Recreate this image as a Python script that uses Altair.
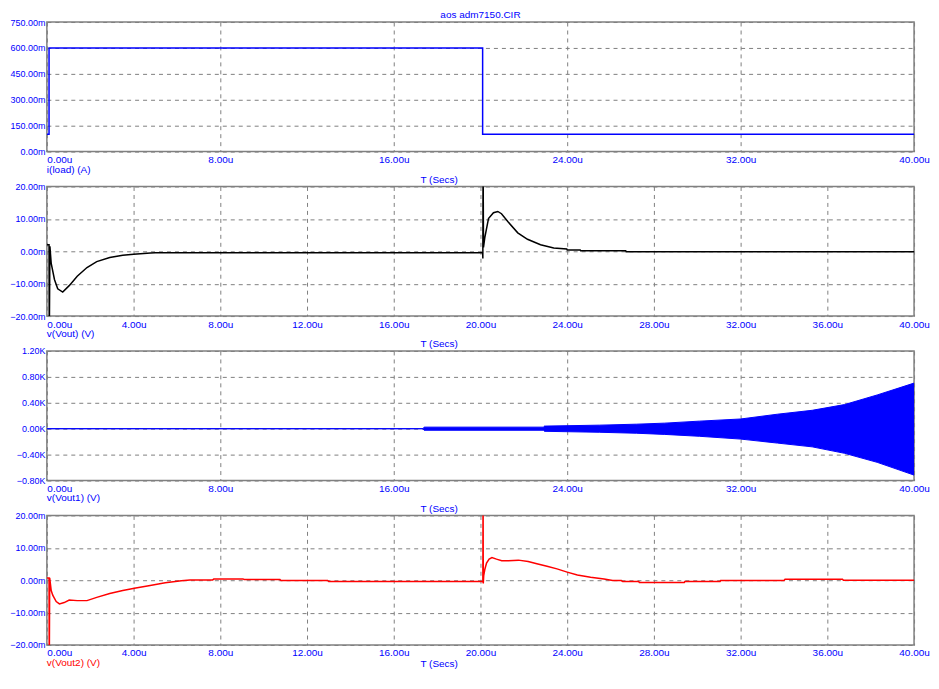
import altair as alt
import pandas as pd

BLUE = "#0000FF"
RED = "#FF0000"
BLACK = "#000000"
GRID = "#808080"
FONT = "Liberation Sans"
W = 870
H = 130

# ---------------- data (time in microseconds) ----------------
# i(load) in mA (step-after)
load_t = [0, 0.1, 20.1, 40]
load_i = [100, 600, 100, 100]

# v(Vout) in mV
vout_t = [0, 0.1, 0.11, 0.14, 0.2, 0.35, 0.5, 0.73, 1.03, 1.4, 1.85, 2.3, 2.9, 3.5,
          4.0, 4.78, 5.0, 20.1, 20.11, 20.12, 20.14, 20.2, 20.37, 20.6, 20.8, 20.97,
          21.27, 21.72, 22.17, 22.77, 23.38, 23.98, 24.0, 24.6, 24.62, 26.7, 26.72, 40]
vout_v = [2.0, 2.0, -30.0, 1.5, -3.7, -8.7, -11.6, -12.6, -10.6, -7.7, -5.0, -3.2, -1.9, -1.25,
          -0.95, -0.55, -0.45, -0.45, -2.2, 30.0, 1.2, 4.2, 10.1, 11.9, 12.3, 11.6,
          9.1, 5.7, 3.7, 2.0, 1.0, 0.7, 0.4, 0.4, 0.15, 0.15, -0.15, -0.15]

# v(Vout1) envelope in V
env_t = [0, 17.35, 17.4, 22.9, 22.95, 25.5, 27.2, 28.5, 30.1, 32.0, 33.7, 35.3, 36.8, 38.3, 40.0]
env_hi = [0, 0, 24, 24, 40, 55, 70, 86, 117, 150, 224, 284, 373, 521, 704]
env_lo = [0, 0, -24, -24, -40, -55, -70, -88, -117, -160, -222, -280, -380, -519, -716]

# v(Vout2) in mV
vout2_t = [0, 0.1, 0.11, 0.13, 0.2, 0.27, 0.43, 0.58, 0.8, 1.03, 1.4, 1.85, 2.3, 2.9, 3.5,
           4.1, 4.7, 5.46, 6.2, 6.6, 7.65, 7.7, 9.05, 9.1, 10.75, 10.8, 12.95, 13.0,
           20.1, 20.11, 20.12, 20.13, 20.15, 20.2, 20.28, 20.4, 20.53, 20.74, 20.98, 21.29,
           21.75, 22.2, 22.6, 23.07, 23.53, 24.0, 24.47, 25.08, 25.7, 26.1, 26.5, 26.56,
           27.3, 27.33, 29.4, 29.43, 31.05, 31.08, 34.0, 34.05, 36.7, 36.74, 40]
vout2_v = [0.7, 0.7, -30.0, 0.7, -3.2, -4.6, -6.6, -7.3, -6.9, -6.1, -6.3, -6.3, -5.3, -4.1, -3.2,
           -2.4, -1.7, -0.8, -0.2, 0.1, 0.1, 0.4, 0.4, 0.2, 0.2, -0.1, -0.1, -0.4,
           -0.4, -0.6, 30.0, -1.0, 1.4, 3.3, 5.3, 6.5, 7.0, 6.5, 6.0, 6.0,
           6.2, 5.8, 5.1, 4.3, 3.5, 2.5, 1.6, 0.9, 0.4, -0.1, -0.1, -0.4,
           -0.4, -0.7, -0.7, -0.4, -0.4, -0.1, -0.1, 0.3, 0.3, 0.0, 0.0]

x_ticks8 = [0, 8, 16, 24, 32, 40]
x_ticks4 = [0, 4, 8, 12, 16, 20, 24, 28, 32, 36, 40]
i_ticks = [0, 150, 300, 450, 600, 750]
mv_ticks = [-20, -10, 0, 10, 20]
k_ticks = [-800, -400, 0, 400, 800, 1200]

labels = ["i(load) (A)", "v(Vout) (V)", "v(Vout1) (V)", "v(Vout2) (V)"]
label_colors = [BLUE, BLUE, BLUE, RED]
page_title = "aos adm7150.CIR"
x_title = "T (Secs)"

# ---------------- helpers ----------------
def xenc(vals, title_y=23):
    return alt.X(
        "t:Q",
        scale=alt.Scale(domain=[0, 40], nice=False, zero=False),
        axis=alt.Axis(
            values=vals,
            labelExpr="format(datum.value, '.2f') + 'u'",
            labelAlign={"expr": "datum.value == 0 ? 'left' : 'center'"},
            labelColor=BLUE, labelFont=FONT, labelFontSize=10, labelPadding=3,
            ticks=False, tickSize=0, domain=False,
            grid=True, gridColor=GRID, gridDash=[4, 4], gridWidth=1,
            title=x_title, titleColor=BLUE, titleFont=FONT, titleFontSize=10,
            titleFontWeight="normal", titleX=int(W * 0.452), titleY=title_y,
            titleAlign="center", titleBaseline="top",
        ),
    )


def yaxis(vals, expr):
    return alt.Axis(
        values=vals, labelExpr=expr,
        labelColor=BLUE, labelFont=FONT, labelFontSize=9, labelPadding=2,
        ticks=False, tickSize=0, domain=False,
        grid=True, gridColor=GRID, gridDash=[4, 4], gridWidth=1, title=None,
    )


def series_label(i):
    return alt.Chart(pd.DataFrame({"s": [labels[i]]})).mark_text(
        align="left", baseline="top", font=FONT, fontSize=10, color=label_colors[i]
    ).encode(x=alt.value(0), y=alt.value(H + 13), text="s:N")


def line_df(t, v):
    return pd.DataFrame({"t": t, "v": v, "idx": list(range(len(t)))})


# ---------------- panel 1 ----------------
p1_line = alt.Chart(line_df(load_t, load_i)).mark_line(
    color=BLUE, strokeWidth=1.5, interpolate="step-after", clip=True
).encode(
    x=xenc(x_ticks8),
    y=alt.Y("v:Q", scale=alt.Scale(domain=[0, 750], nice=False),
            axis=yaxis(i_ticks, "format(datum.value, '.2f') + 'm'")),
    order="idx:Q",
)
p1_title = alt.Chart(pd.DataFrame({"s": [page_title]})).mark_text(
    align="center", baseline="bottom", font=FONT, fontSize=10, color=BLUE
).encode(x=alt.value(W / 2), y=alt.value(-2), text="s:N")
p1 = alt.layer(p1_line, series_label(0), p1_title).properties(width=W, height=H)

# ---------------- panel 2 ----------------
p2_line = alt.Chart(line_df(vout_t, vout_v)).mark_line(
    color=BLACK, strokeWidth=1.5, clip=True
).encode(
    x=xenc(x_ticks4),
    y=alt.Y("v:Q", scale=alt.Scale(domain=[-20, 20], nice=False),
            axis=yaxis(mv_ticks, "format(datum.value, '.2f') + 'm'")),
    order="idx:Q",
)
p2 = alt.layer(p2_line, series_label(1)).properties(width=W, height=H)

# ---------------- panel 3 ----------------
env_df = pd.DataFrame({"t": env_t, "hi": env_hi, "lo": env_lo})
p3_area = alt.Chart(env_df).mark_area(
    color=BLUE, opacity=1, stroke=BLUE, strokeWidth=1, clip=True
).encode(
    x=xenc(x_ticks8),
    y=alt.Y("hi:Q", scale=alt.Scale(domain=[-800, 1200], nice=False),
            axis=yaxis(k_ticks, "format(datum.value / 1000, '.2f') + 'K'")),
    y2="lo:Q",
)
p3 = alt.layer(p3_area, series_label(2)).properties(width=W, height=H)

# ---------------- panel 4 ----------------
p4_line = alt.Chart(line_df(vout2_t, vout2_v)).mark_line(
    color=RED, strokeWidth=1.5, clip=True
).encode(
    x=xenc(x_ticks4, title_y=14),
    y=alt.Y("v:Q", scale=alt.Scale(domain=[-20, 20], nice=False),
            axis=yaxis(mv_ticks, "format(datum.value, '.2f') + 'm'")),
    order="idx:Q",
)
p4 = alt.layer(p4_line, series_label(3)).properties(width=W, height=H)

chart = alt.vconcat(p1, p2, p3, p4, spacing=35, bounds="flush").properties(
    padding={"left": 0, "top": 0, "right": 0, "bottom": 0},
    background="white",
).configure_view(stroke=GRID, strokeWidth=1.5)

chart.save("out.html", embed_options={"renderer": "svg", "actions": False})
